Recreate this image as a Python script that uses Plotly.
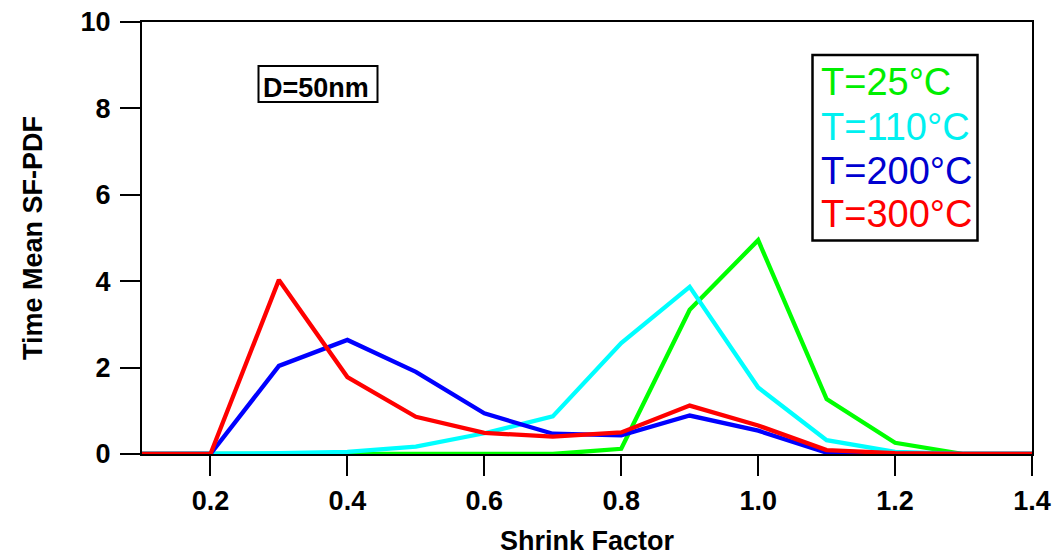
import plotly.graph_objects as go

# ---- data ----
shrink_factor = [0.1, 0.2, 0.3, 0.4, 0.5, 0.6, 0.7, 0.8, 0.9, 1.0, 1.1, 1.2, 1.3, 1.4]
pdf_25C  = [0, 0, 0, 0, 0, 0, 0, 0.12, 3.34, 4.95, 1.27, 0.26, 0, 0]
pdf_110C = [0, 0, 0.02, 0.05, 0.17, 0.48, 0.87, 2.57, 3.87, 1.54, 0.32, 0.05, 0, 0]
pdf_200C = [0, 0, 2.04, 2.64, 1.90, 0.94, 0.47, 0.43, 0.89, 0.54, 0.03, 0, 0, 0]
pdf_300C = [0, 0, 4.03, 1.78, 0.86, 0.49, 0.40, 0.50, 1.12, 0.66, 0.09, 0.02, 0, 0]

series_names = ["T=25°C", "T=110°C", "T=200°C", "T=300°C"]
series_values = [pdf_25C, pdf_110C, pdf_200C, pdf_300C]
line_colors = ["#00FF00", "#00FFFF", "#0000FF", "#FF0000"]
text_colors = ["#00EE00", "#00F0F0", "#0000D0", "#FF0000"]

x_ticks = [0.2, 0.4, 0.6, 0.8, 1.0, 1.2, 1.4]
y_ticks = [0, 2, 4, 6, 8, 10]

W, H = 1056, 556
ML, MR, MT, MB = 142, 24, 22, 102
PW, PH = W - ML - MR, H - MT - MB


def px(xp):
    return (xp - ML) / PW


def py(yp):
    return (H - MB - yp) / PH


FONT = "Liberation Sans, Arial, sans-serif"

fig = go.Figure()
for name, vals, col in zip(series_names, series_values, line_colors):
    fig.add_trace(go.Scatter(x=shrink_factor, y=vals, mode="lines", name=name,
                             line=dict(color=col, width=4.3), showlegend=False))

axis_common = dict(showline=True, linecolor="black", linewidth=2, mirror=True,
                   ticks="outside", ticklen=20, tickwidth=2, tickcolor="black",
                   showgrid=False, zeroline=False, automargin=False,
                   tickfont=dict(family=FONT, size=27, color="black", weight="bold"))

fig.update_layout(
    width=W, height=H,
    margin=dict(l=ML, r=MR, t=MT, b=MB, autoexpand=False),
    paper_bgcolor="white", plot_bgcolor="white",
    font=dict(family=FONT, color="black"),
    xaxis=dict(range=[0.1, 1.4], tickvals=x_ticks, tickformat=".1f",
               title=dict(text="<b>Shrink Factor</b>", font=dict(family=FONT, size=27),
                          standoff=19),
               ticklabelstandoff=2,
               **axis_common),
    yaxis=dict(range=[0, 10], tickvals=y_ticks,
               title=dict(text="<b>Time Mean SF-PDF</b>", font=dict(family=FONT, size=27),
                          standoff=30),
               ticklabelstandoff=4,
               **axis_common),
)

# D=50nm label box
fig.add_shape(type="rect", xref="paper", yref="paper",
              x0=px(258.5), x1=px(377.5), y0=py(102), y1=py(66),
              line=dict(color="black", width=2), fillcolor="white")
fig.add_annotation(xref="paper", yref="paper", x=px(315.8), y=py(88.3),
                   xanchor="center", yanchor="middle", showarrow=False,
                   text="<b>D=50nm</b>", font=dict(family=FONT, size=27, color="black"))

# legend box
fig.add_shape(type="rect", xref="paper", yref="paper",
              x0=px(812.5), x1=px(977.5), y0=py(240.5), y1=py(55),
              line=dict(color="black", width=2.5), fillcolor="white")
legend_mid_y = [82.2, 127.2, 170.8, 213.5]
for name, col, ym in zip(series_names, text_colors, legend_mid_y):
    fig.add_annotation(xref="paper", yref="paper", x=px(819), y=py(ym),
                       xanchor="left", yanchor="middle", showarrow=False,
                       text=name, font=dict(family=FONT, size=38, color=col))

fig.write_html("out.html")
